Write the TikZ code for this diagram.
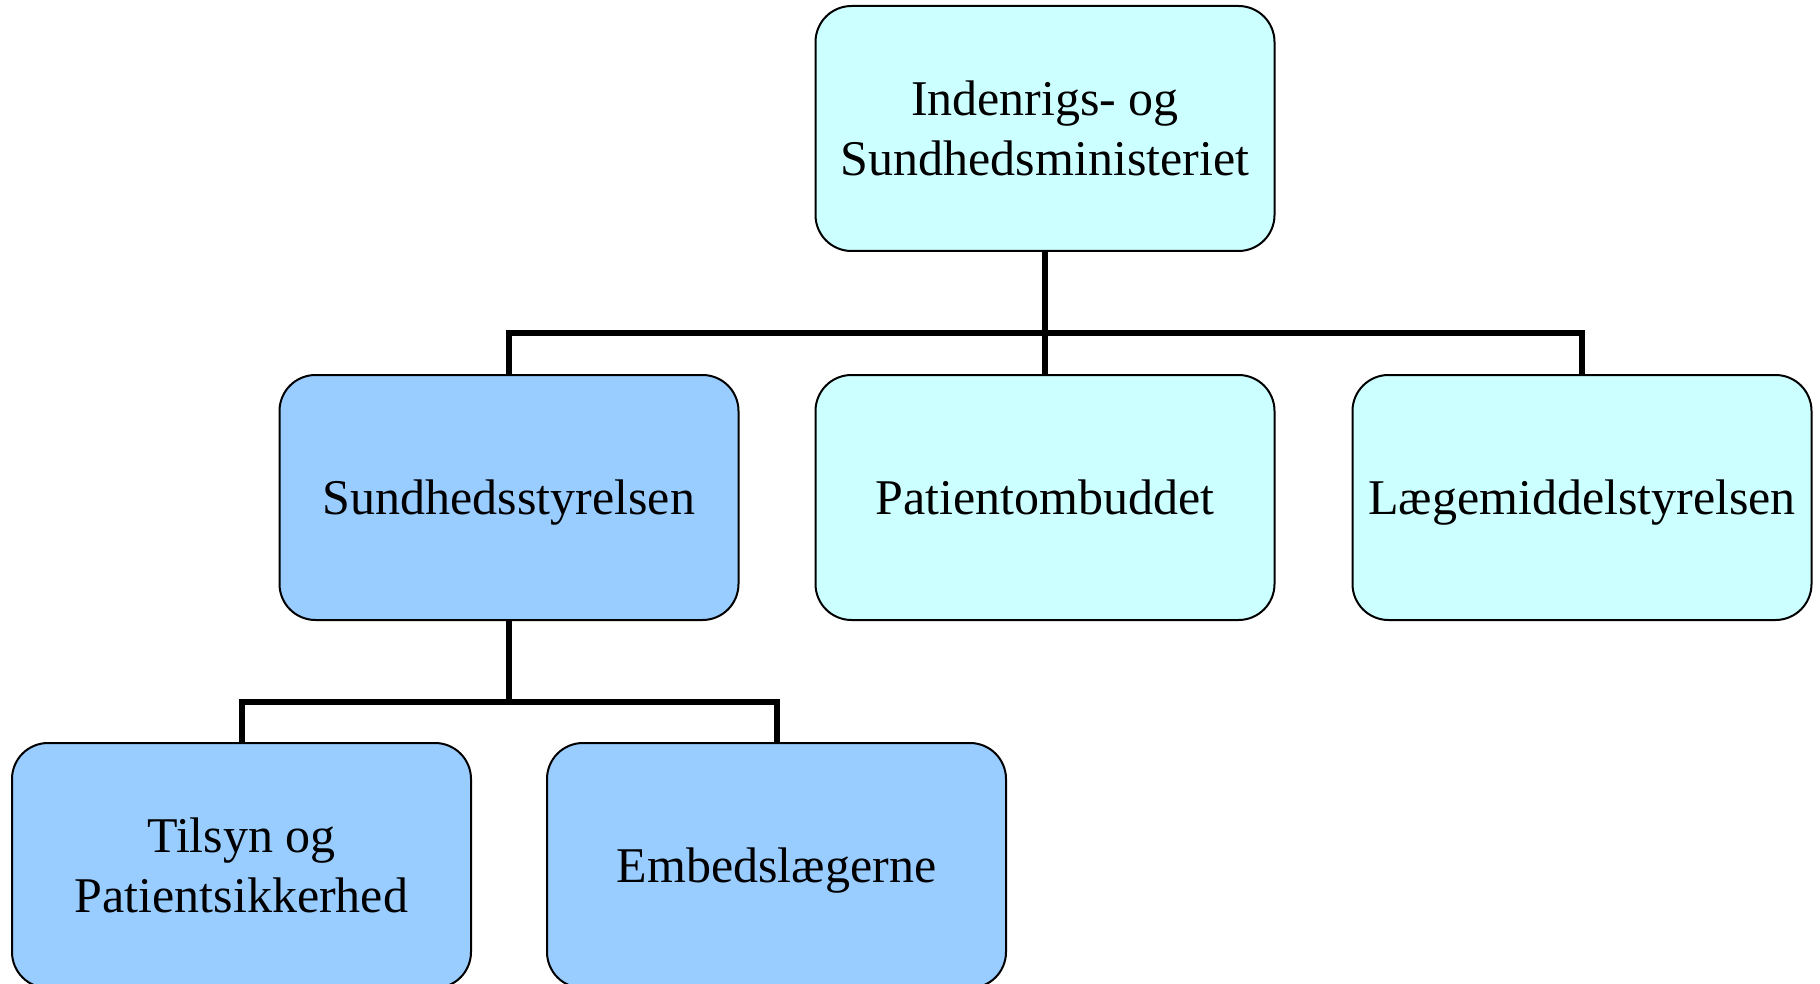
\documentclass[tikz,border=0pt]{standalone}
\usepackage{fontspec}
\setmainfont{Liberation Serif}
\definecolor{lightcyan}{HTML}{CCFFFF}
\definecolor{lightblue}{HTML}{99CCFF}
\tikzset{
  unit/.style={draw=black,line width=1pt,rounded corners=18pt,minimum width=229.5pt,minimum height=122.5pt,align=center,font=\fontsize{25pt}{30pt}\selectfont,inner sep=0pt,text depth=0pt},
  ministry/.style={unit,fill=lightcyan},
  board/.style={unit,fill=lightblue},
  branch/.style={line width=3pt}
}
\begin{document}
\begin{tikzpicture}[x=0.5pt,y=-0.5pt]
        \useasboundingbox (0,0) rectangle (1820,984);
        \node[ministry] (ism) at (1045,128.5) {Indenrigs- og\\Sundhedsministeriet};
        \node[board] (sst) at (509,497.5) {Sundhedsstyrelsen};
        \node[ministry] (pob) at (1045,497.5) {Patientombuddet};
        \node[ministry] (lms) at (1582,497.5) {Lægemiddelstyrelsen};
        \node[board] (tps) at (241.5,865.5) {Tilsyn og\\Patientsikkerhed};
        \node[board] (eml) at (776.5,865.5) {Embedslægerne};
        % bars
        \coordinate (bartop) at (1045,333);
        \coordinate (barsst) at (509,702);
        \draw[branch] (ism.south) -- (pob.north);
        \draw[branch] (sst.north) |- (bartop) -| (lms.north);
        \draw[branch] (sst.south) -- (barsst);
        \draw[branch] (tps.north) |- (barsst) -| (eml.north);
\end{tikzpicture}
\end{document}
